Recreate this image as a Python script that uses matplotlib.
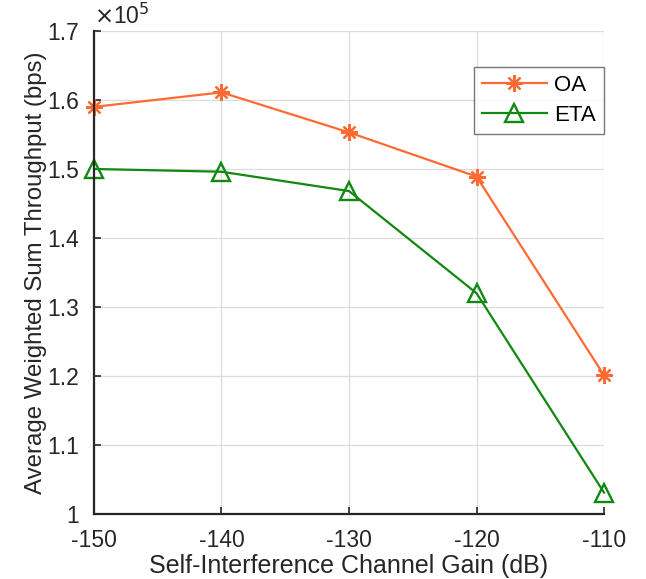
import matplotlib
matplotlib.use("Agg")
import matplotlib.pyplot as plt

plt.rcParams['font.family'] = ['Liberation Sans', 'DejaVu Sans']

x_gain = [-150, -140, -130, -120, -110]
oa = [1.590, 1.611, 1.553, 1.489, 1.201]
eta = [1.500, 1.496, 1.468, 1.320, 1.031]
xticks = [-150, -140, -130, -120, -110]
yticks = [1.0, 1.1, 1.2, 1.3, 1.4, 1.5, 1.6, 1.7]
yticklabels = ['1', '1.1', '1.2', '1.3', '1.4', '1.5', '1.6', '1.7']

txt = '#262626'
fig = plt.figure(figsize=(6.46, 5.79), dpi=100)
ax = fig.add_axes([0.1455, 0.1123, 0.7895, 0.8342])

l1, = ax.plot(x_gain, oa, color='#FF6A33', lw=1.6, marker=(8, 2, 0), ms=12, mew=1.6, label='OA')
l2, = ax.plot(x_gain, eta, color='#118811', lw=1.6, marker='^', ms=13, mfc='none', mew=1.7, label='ETA')
l1.set_clip_on(False)
l2.set_clip_on(False)

ax.set_xlim(-150, -110)
ax.set_ylim(1.0, 1.7)
ax.set_xticks(xticks)
ax.set_xticklabels([str(v) for v in xticks])
ax.set_yticks(yticks)
ax.set_yticklabels(yticklabels)
ax.grid(True, color='#dcdcdc', lw=0.9)
ax.set_axisbelow(True)
for s in ['top', 'right']:
    ax.spines[s].set_visible(False)
for s in ['left', 'bottom']:
    ax.spines[s].set_color(txt)
    ax.spines[s].set_linewidth(1.6)
ax.tick_params(direction='in', length=5, width=1.2, colors=txt, labelsize=16.5)
ax.tick_params(axis='x', pad=11)
ax.tick_params(axis='y', pad=11)

ax.set_xlabel('Self-Interference Channel Gain (dB)', fontsize=18, color=txt, labelpad=1)
ax.set_ylabel('Average Weighted Sum Throughput (bps)', fontsize=17.3, color=txt, labelpad=0)
ax.text(0.0, 1.005, r'$\times$10$^5$', transform=ax.transAxes, fontsize=16.5, color=txt,
        ha='left', va='bottom')

leg = ax.legend(loc='upper right', bbox_to_anchor=(1.0, 0.925), fontsize=16, frameon=True,
                fancybox=False, edgecolor='#555555', handlelength=2.9, borderpad=0.35,
                labelspacing=0.4, handletextpad=0.35, borderaxespad=0)
leg.get_frame().set_linewidth(1.0)

fig.savefig('out.png', dpi=100)
